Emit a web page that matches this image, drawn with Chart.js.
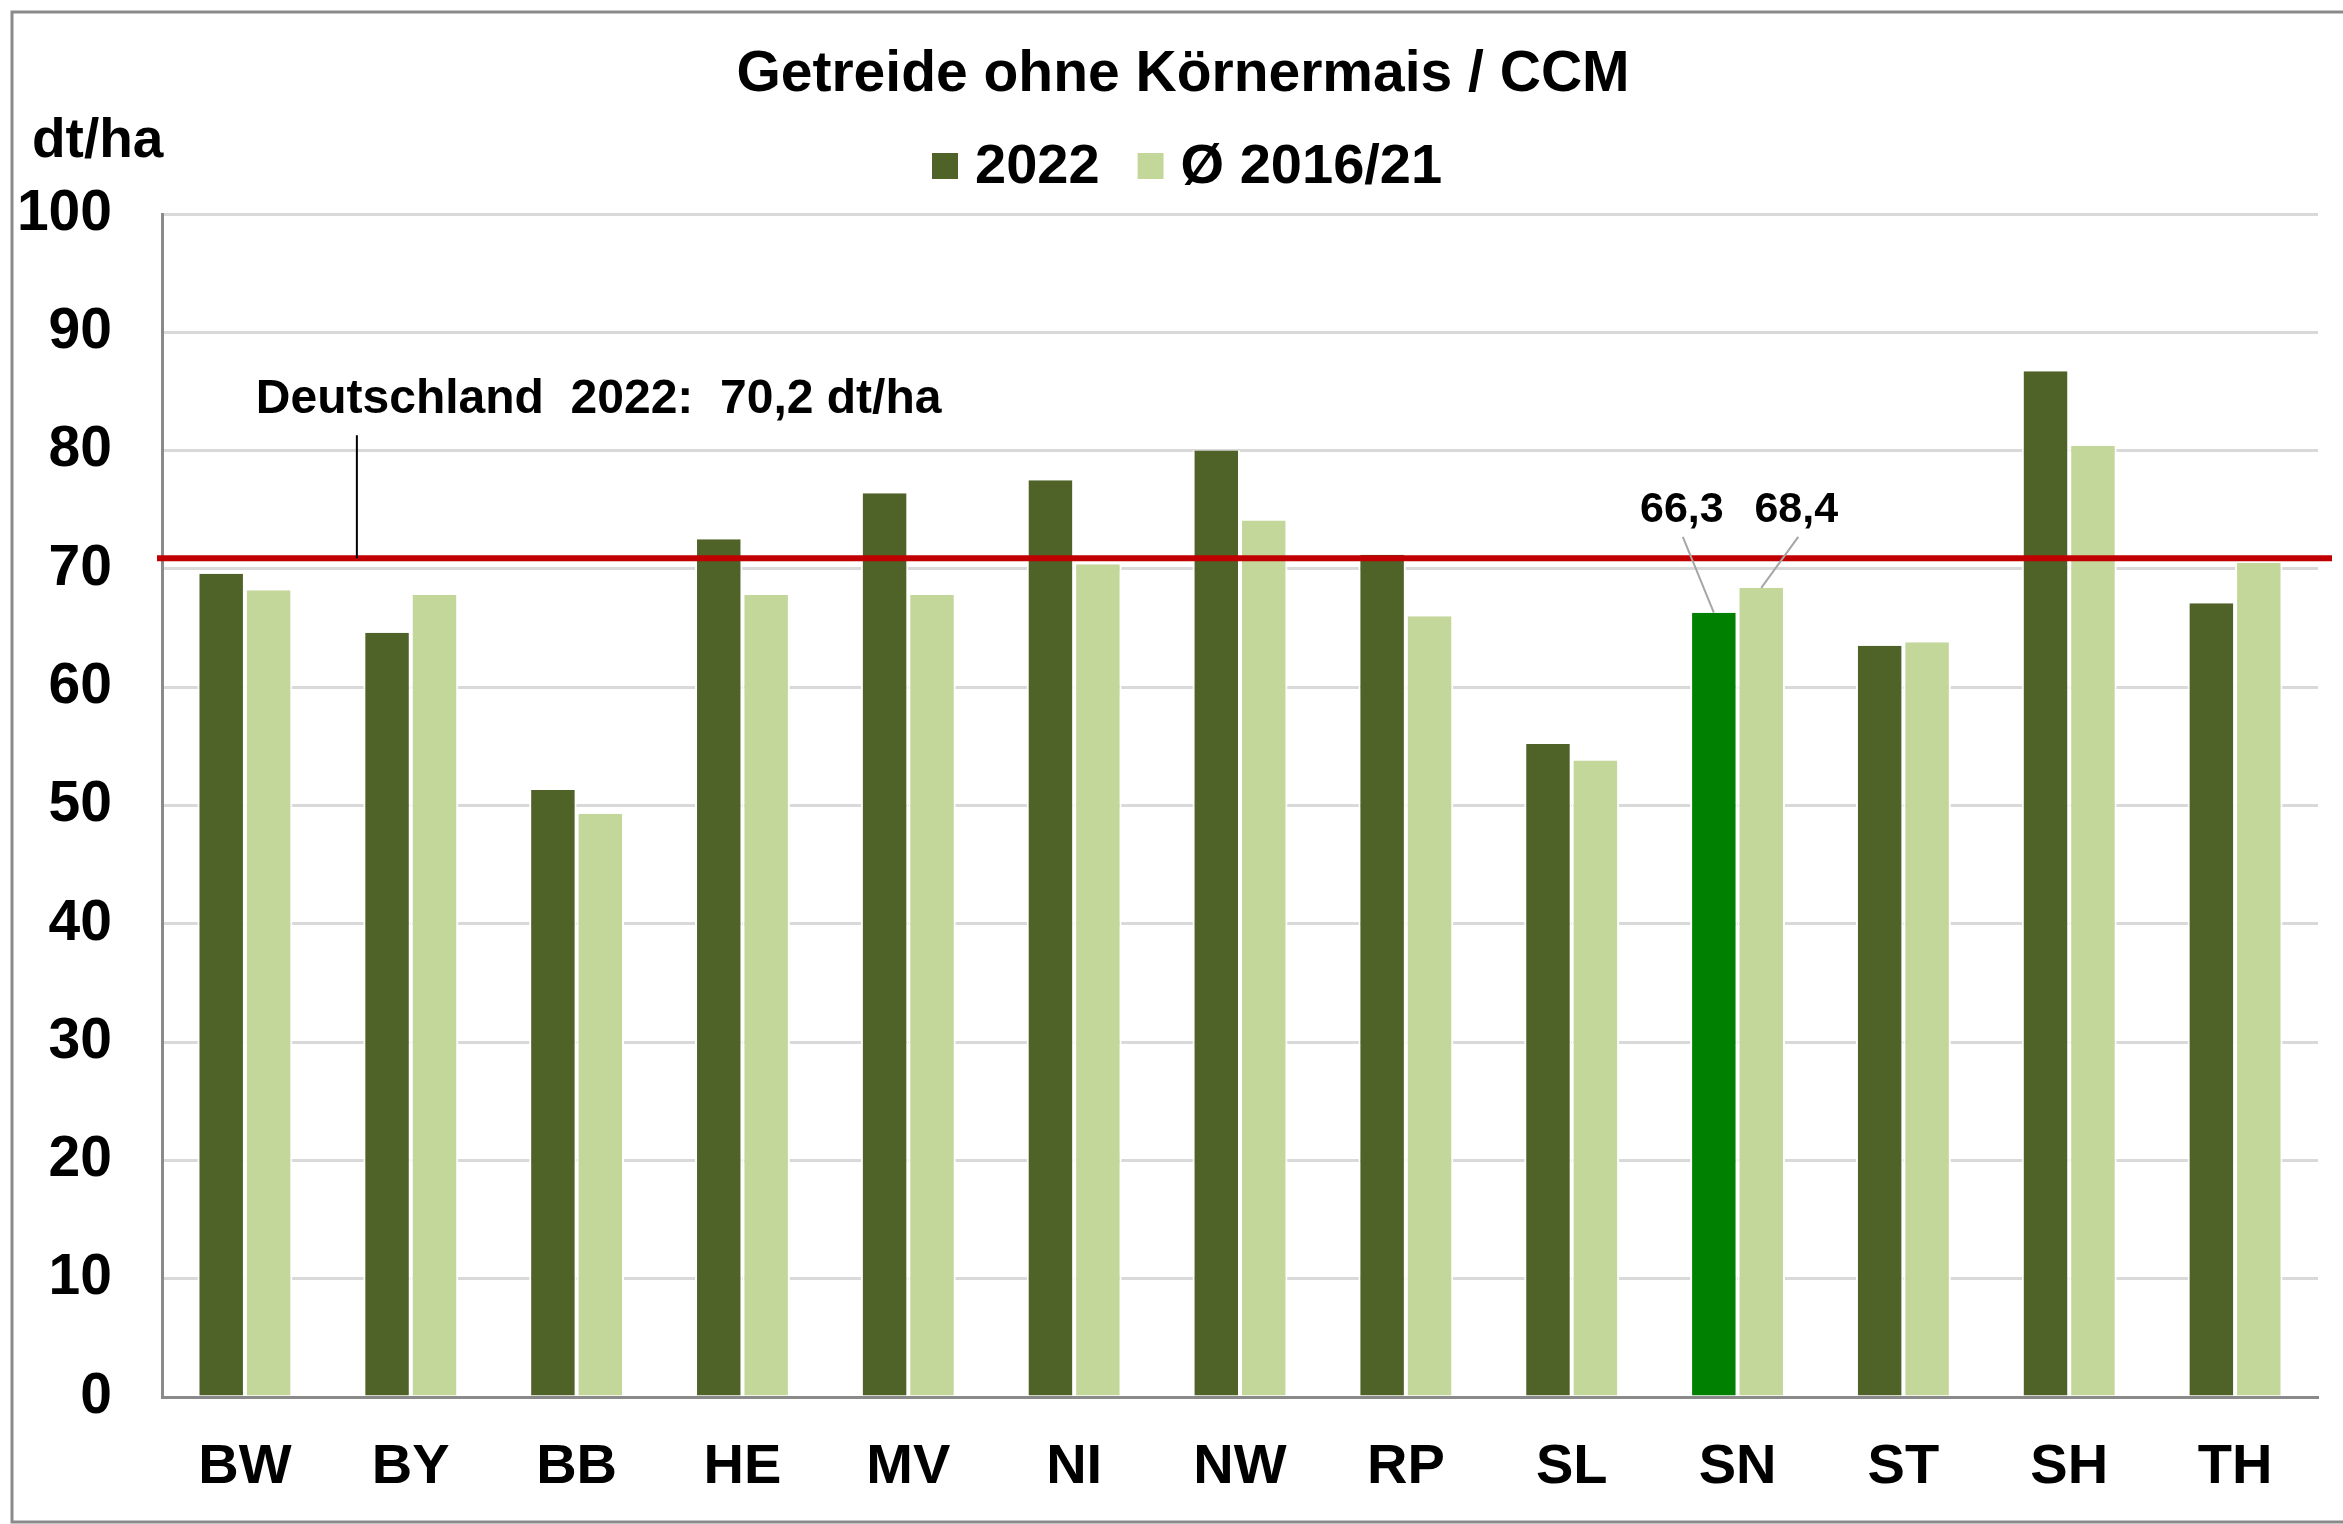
<!DOCTYPE html>
<html>
<head>
<meta charset="utf-8">
<title>Getreide ohne Körnermais / CCM</title>
<script src="https://cdn.jsdelivr.net/npm/chart.js@4.4.1/dist/chart.umd.min.js"></script>
<style>
    html, body { margin: 0; padding: 0; background: #fff; }
    #wrap { width: 2343px; height: 1524px; position: relative; }
</style>
</head>
<body>
<div id="wrap"><canvas id="mychart"></canvas></div>
<script>
const FONT = "'Liberation Sans', Arial, sans-serif";

// data (dt/ha)
const laender = ['BW', 'BY', 'BB', 'HE', 'MV', 'NI', 'NW', 'RP', 'SL', 'SN', 'ST', 'SH', 'TH'];
const ertrag2022 = [69.6, 64.6, 51.3, 72.5, 76.4, 77.5, 80.0, 71.2, 55.2, 66.3, 63.5, 86.7, 67.1];
const ertragMittel = [68.2, 67.8, 49.3, 67.8, 67.8, 70.4, 74.1, 66.0, 53.8, 68.4, 63.8, 80.4, 70.5];
const seriesNames = ['2022', 'Ø 2016/21'];
const seriesColors = ['#4F6228', '#C4D79B'];
const highlightLand = 'SN';
const highlightColor = '#008000';
const yMax = 100;
const yStep = 10;

// Germany reference line (drawn where the picture has it)
const deutschlandWert = 70.9;
const deutschlandText = 'Deutschland  2022:  70,2 dt/ha';

const ctx = document.getElementById('mychart');

const darkColors = laender.map(l => l === highlightLand ? highlightColor : seriesColors[0]);

const deko = {
    id: 'deko',
    beforeDraw(chart) {
        const c = chart.ctx;
        c.save();
        c.fillStyle = '#fff';
        c.fillRect(0, 0, chart.width, chart.height);
        // outer frame
        c.strokeStyle = '#8a8a8a';
        c.lineWidth = 3;
        c.beginPath();
        c.moveTo(chart.width, 12);
        c.lineTo(12, 12);
        c.lineTo(12, 1522);
        c.lineTo(chart.width, 1522);
        c.stroke();
        c.restore();
    },
    afterDatasetsDraw(chart) {
        const c = chart.ctx;
        const x = chart.scales.x;
        const y = chart.scales.y;
        const area = chart.chartArea;
        c.save();

        // red line for Germany
        const yLine = y.getPixelForValue(deutschlandWert);
        c.strokeStyle = '#C00000';
        c.lineWidth = 6;
        c.beginPath();
        c.moveTo(area.left - 5, yLine);
        c.lineTo(area.right + 14, yLine);
        c.stroke();

        // little pointer + text
        const xTick = x.getPixelForValue(0.675);
        c.strokeStyle = '#000';
        c.lineWidth = 2;
        c.beginPath();
        c.moveTo(xTick, y.getPixelForValue(81.3));
        c.lineTo(xTick, yLine);
        c.stroke();
        c.fillStyle = '#000';
        c.font = 'bold 48px ' + FONT;
        c.textAlign = 'left';
        c.textBaseline = 'alphabetic';
        c.fillText(deutschlandText, xTick - 101, y.getPixelForValue(83.2));

        // labels for the highlighted state
        const idx = laender.indexOf(highlightLand);
        const b0 = chart.getDatasetMeta(0).data[idx];
        const b1 = chart.getDatasetMeta(1).data[idx];
        const yText = y.getPixelForValue(74.0);
        const yLead = y.getPixelForValue(72.7);
        c.strokeStyle = '#A6A6A6';
        c.lineWidth = 2;
        c.beginPath();
        c.moveTo(b0.x, b0.y);
        c.lineTo(b0.x - 31, yLead);
        c.moveTo(b1.x, b1.y);
        c.lineTo(b1.x + 37, yLead);
        c.stroke();
        c.font = 'bold 43px ' + FONT;
        c.textAlign = 'center';
        c.fillText(ertrag2022[idx].toFixed(1).replace('.', ','), b0.x - 32, yText);
        c.fillText(ertragMittel[idx].toFixed(1).replace('.', ','), b1.x + 35, yText);
        c.restore();
    },
    afterDraw(chart) {
        const c = chart.ctx;
        c.save();
        c.fillStyle = '#000';
        c.textBaseline = 'alphabetic';

        // title
        c.font = 'bold 57px ' + FONT;
        c.textAlign = 'center';
        c.fillText('Getreide ohne Körnermais / CCM', 1183, 91);

        // legend
        c.font = 'bold 56px ' + FONT;
        c.textAlign = 'left';
        let lx = 932;
        seriesNames.forEach((name, i) => {
            c.fillStyle = seriesColors[i];
            c.fillRect(lx, 153, 26, 26);
            c.fillStyle = '#000';
            c.fillText(name, lx + 43, 183);
            lx += 43 + c.measureText(name).width + 38;
        });

        // unit
        c.font = 'bold 55px ' + FONT;
        c.fillText('dt/ha', 32, 157);
        c.restore();
    }
};

new Chart(ctx, {
    type: 'bar',
    data: {
        labels: laender,
        datasets: [{
            label: seriesNames[0],
            data: ertrag2022,
            backgroundColor: darkColors,
            borderColor: '#fff',
            borderWidth: { top: 0, left: 2, right: 2, bottom: 0 }
        }, {
            label: seriesNames[1],
            data: ertragMittel,
            backgroundColor: seriesColors[1],
            borderColor: '#fff',
            borderWidth: { top: 0, left: 2, right: 2, bottom: 0 }
        }]
    },
    options: {
        responsive: true,
        maintainAspectRatio: false,
        animation: false,
        devicePixelRatio: 1,
        layout: { padding: { top: 214, right: 25, bottom: 0, left: 0 } },
        datasets: {
            bar: { categoryPercentage: 0.572, barPercentage: 1.0 }
        },
        plugins: {
            legend: { display: false },
            title: { display: false },
            tooltip: { enabled: false }
        },
        scales: {
            x: {
                grid: { display: false, drawTicks: false },
                border: { color: '#8a8a8a', width: 3 },
                ticks: {
                    color: '#000',
                    font: { family: FONT, size: 56, weight: 'bold' },
                    padding: 37,
                    maxRotation: 0
                },
                afterFit(scale) { scale.height = 127; }
            },
            y: {
                min: 0,
                max: yMax,
                grid: { color: '#D9D9D9', lineWidth: 3, drawTicks: false },
                border: { color: '#8a8a8a', width: 3 },
                ticks: {
                    stepSize: yStep,
                    color: '#000',
                    font: { family: FONT, size: 57, weight: 'bold' },
                    padding: 50
                },
                afterFit(scale) { scale.width = 162; }
            }
        }
    },
    plugins: [deko]
});
</script>
</body>
</html>
